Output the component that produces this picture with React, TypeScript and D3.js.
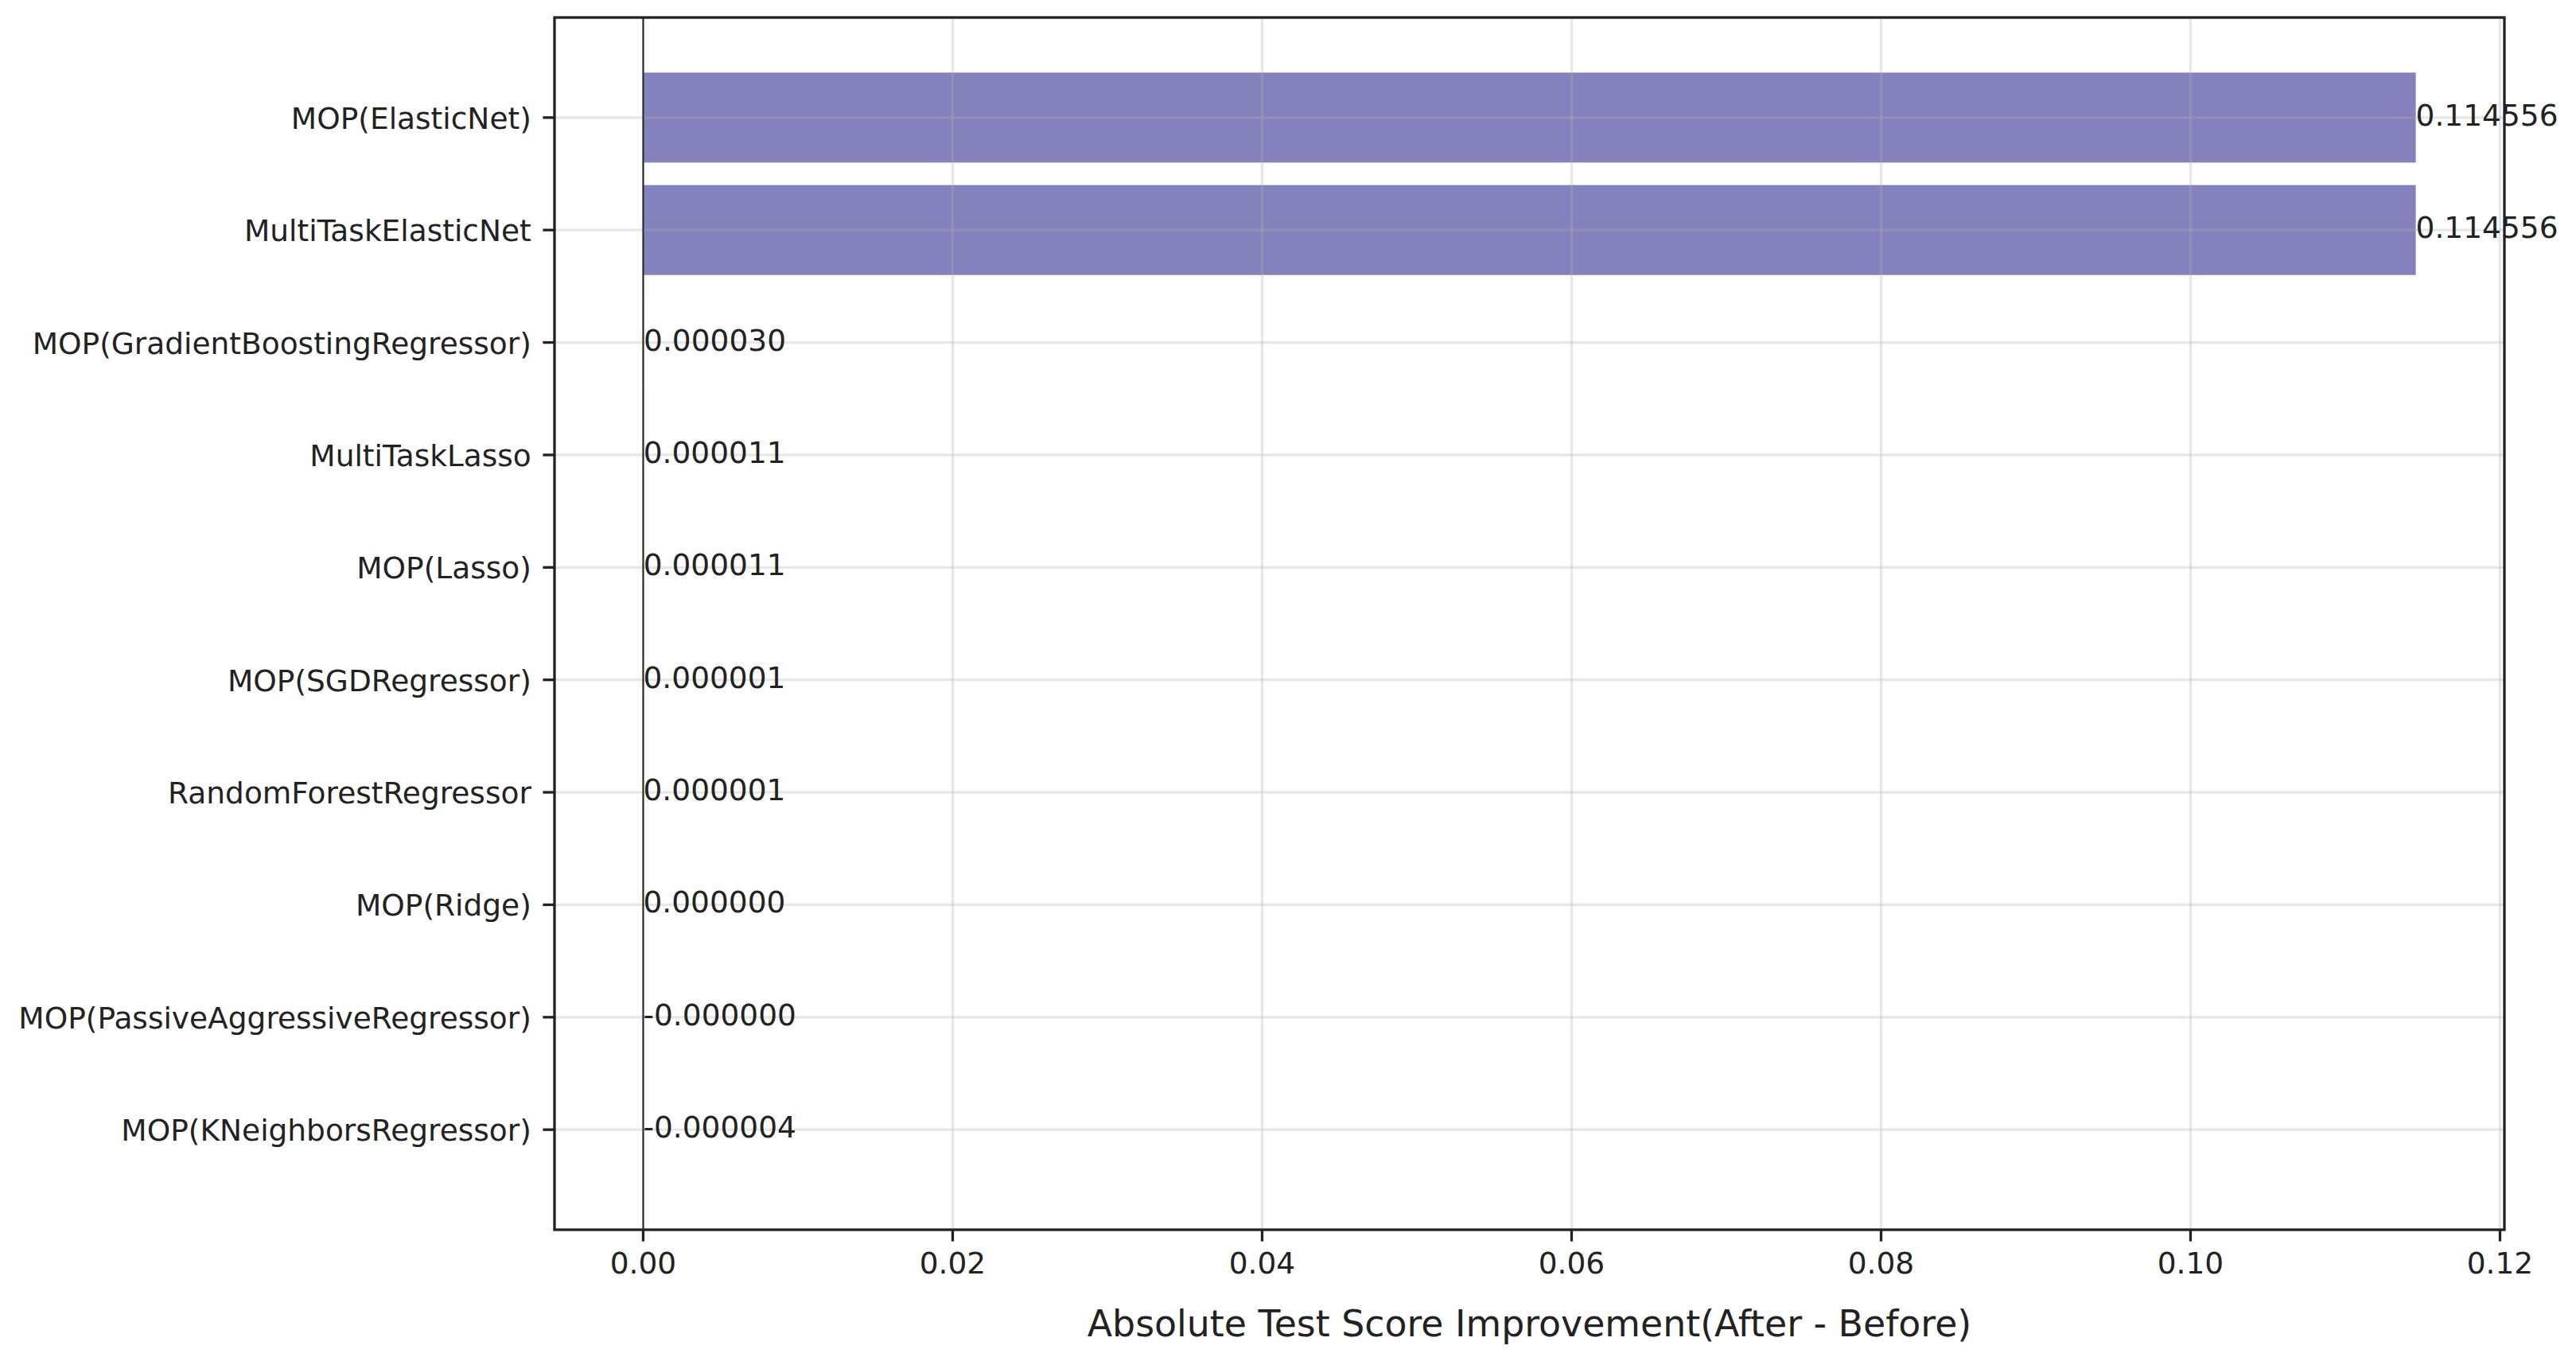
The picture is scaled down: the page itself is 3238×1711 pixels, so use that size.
import React from "react";
import * as d3 from "d3";

const categories = [
  "MOP(ElasticNet)",
  "MultiTaskElasticNet",
  "MOP(GradientBoostingRegressor)",
  "MultiTaskLasso",
  "MOP(Lasso)",
  "MOP(SGDRegressor)",
  "RandomForestRegressor",
  "MOP(Ridge)",
  "MOP(PassiveAggressiveRegressor)",
  "MOP(KNeighborsRegressor)",
];
const improvements = [
  0.114556, 0.114556, 0.00003, 0.000011, 0.000011, 0.000001, 0.000001,
  0.0000002, -0.0000003, -0.000004,
];
const xTicks = [0, 0.02, 0.04, 0.06, 0.08, 0.1, 0.12];
const xLabel = "Absolute Test Score Improvement(After - Before)";

const W = 3238;
const H = 1711;
const left = 697;
const right = 3148;
const top = 22;
const bottom = 1546;
const TEXT = "#222222";
const FONT = "DejaVu Sans";

function fmtVal(v: number) {
  return (v < 0 ? "-" : "") + Math.abs(v).toFixed(6);
}

export default function App() {
  const minV = Math.min(0, d3.min(improvements) as number);
  const maxV = Math.max(0, d3.max(improvements) as number);
  const pad = (maxV - minV) * 0.05;
  const x = d3.scaleLinear().domain([minV - pad, maxV + pad]).range([left, right]);
  const n = categories.length;
  const yMin = -0.4 - 0.05 * (n - 1 + 0.8);
  const yMax = n - 1 + 0.4 + 0.05 * (n - 1 + 0.8);
  const y = d3.scaleLinear().domain([yMin, yMax]).range([top, bottom]);
  const barH = y(0.8) - y(0);
  const tickLen = 14.6;
  const fmtTick = d3.format(".2f");

  return (
    <svg
      width={W}
      height={H}
      style={{ position: "absolute", left: 0, top: 0, background: "#fff" }}
      fontFamily={FONT}
    >
      <rect x={0} y={0} width={W} height={H} fill="#ffffff" />
      {/* bars */}
      {improvements.map((v, i) => (
        <rect
          key={"b" + i}
          x={Math.min(x(0), x(v))}
          y={y(i) - barH / 2}
          width={Math.abs(x(v) - x(0))}
          height={barH}
          fill="#8581bc"
        />
      ))}
      {/* grid */}
      {xTicks.map((t, i) => (
        <line
          key={"gx" + i}
          x1={x(t)}
          x2={x(t)}
          y1={top}
          y2={bottom}
          stroke="#b0b0b0"
          strokeOpacity={0.3}
          strokeWidth={3.3}
        />
      ))}
      {categories.map((c, i) => (
        <line
          key={"gy" + i}
          x1={left}
          x2={right}
          y1={y(i)}
          y2={y(i)}
          stroke="#b0b0b0"
          strokeOpacity={0.3}
          strokeWidth={3.3}
        />
      ))}
      {/* zero line */}
      <line x1={x(0)} x2={x(0)} y1={top} y2={bottom} stroke="#222" strokeWidth={2} />
      {/* value labels */}
      {improvements.map((v, i) => (
        <text
          key={"v" + i}
          x={x(v)}
          y={y(i) + 10}
          fontSize={37.5}
          fill={TEXT}
          textAnchor="start"
        >
          {fmtVal(v)}
        </text>
      ))}
      {/* spines */}
      <rect
        x={left}
        y={top}
        width={right - left}
        height={bottom - top}
        fill="none"
        stroke={TEXT}
        strokeWidth={3.3}
      />
      {/* y ticks */}
      {categories.map((c, i) => (
        <g key={"yt" + i}>
          <line
            x1={left - tickLen}
            x2={left}
            y1={y(i)}
            y2={y(i)}
            stroke={TEXT}
            strokeWidth={3.3}
          />
          <text
            x={left - tickLen - 14.6}
            y={y(i) + 14}
            fontSize={37.5}
            fill={TEXT}
            textAnchor="end"
          >
            {c}
          </text>
        </g>
      ))}
      {/* x ticks */}
      {xTicks.map((t, i) => (
        <g key={"xt" + i}>
          <line
            x1={x(t)}
            x2={x(t)}
            y1={bottom}
            y2={bottom + tickLen}
            stroke={TEXT}
            strokeWidth={3.3}
          />
          <text
            x={x(t)}
            y={1601}
            fontSize={37.5}
            fill={TEXT}
            textAnchor="middle"
          >
            {fmtTick(t)}
          </text>
        </g>
      ))}
      <text
        x={(left + right) / 2}
        y={1680}
        fontSize={45.8}
        fill={TEXT}
        textAnchor="middle"
      >
        {xLabel}
      </text>
    </svg>
  );
}
